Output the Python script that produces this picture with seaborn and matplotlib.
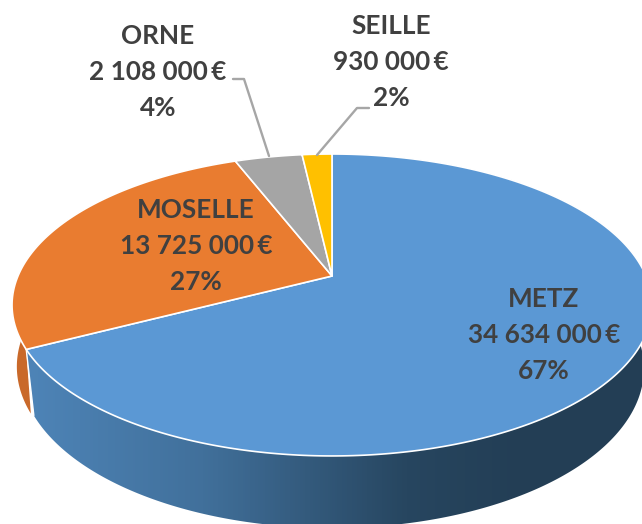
import numpy as np
import matplotlib
matplotlib.use("Agg")
import matplotlib.pyplot as plt
from matplotlib.colors import LinearSegmentedColormap
from matplotlib.patches import Polygon
import seaborn as sns

names = ["METZ", "MOSELLE", "ORNE", "SEILLE"]
values = [34634000, 13725000, 2108000, 930000]
percents = [67, 27, 4, 2]
colors = ["#5B98D4", "#E97C30", "#A5A5A5", "#FFC000"]

sns.set_theme(style="white")
plt.rcParams["font.family"] = ["Lato", "DejaVu Sans"]

fig, ax = plt.subplots(figsize=(6.42, 5.24), dpi=100)
fig.subplots_adjust(0, 0, 1, 1)
ax.set_xlim(0, 642)
ax.set_ylim(524, 0)
ax.axis("off")

# perspective projection of a unit disc
X0, Y0, A, B, K = 332, 276, 314, 145.4, 0.192
palette = sns.color_palette(colors)


def top_edge(theta):
    u, v = np.sin(theta), np.cos(theta)
    d = 1 + K * v
    return A * u / d, B * v / d


def rim(theta):
    x, y = top_edge(theta)
    return X0 + x, Y0 - y


def lower_rim(theta, sx=0.975, drop=62):
    x, y = top_edge(theta)
    return X0 + sx * x, Y0 - 1.056 * y + drop


fractions = np.array(values, dtype=float) / np.sum(values)
edges = np.concatenate([[0], np.cumsum(fractions)]) * 2 * np.pi

# orange wall first, the blue wall overlaps its inner end
th = np.linspace(edges[1], edges[2], 200)
xa, ya = rim(th)
xb, yb = lower_rim(th, 0.985, 60)
ax.fill(np.r_[xa, xb[::-1]], np.r_[ya, yb[::-1]], color="#C9692A", lw=0, zorder=0.5)

th = np.linspace(edges[0], edges[1], 400)
xa, ya = rim(th)
xb, yb = lower_rim(th)
blue_side = Polygon(np.r_[np.c_[xa, ya], np.c_[xb, yb][::-1]], closed=True,
                    transform=ax.transData, facecolor="none", edgecolor="none")
ax.add_patch(blue_side)
cmap = LinearSegmentedColormap.from_list(
    "side", [(0, "#4F86BA"), (0.30, "#41709B"), (0.62, "#274660"),
             (0.80, "#233E55"), (1, "#233E55")])
img = ax.imshow(np.linspace(0, 1, 640)[None, :], extent=(10, 650, 524, 0),
                aspect="auto", cmap=cmap, zorder=1)
img.set_clip_path(blue_side)
ax.set_xlim(0, 642)
ax.set_ylim(524, 0)

# wall separator at the blue/orange edge
xa, ya = rim(edges[1])
xb, yb = lower_rim(edges[1])
ax.plot([xa, xb], [ya, yb], color="white", lw=1.0, zorder=2)

# top faces
for i, col in enumerate(palette):
    th = np.linspace(edges[i], edges[i + 1], 300)
    x, y = rim(th)
    ax.fill(np.r_[X0, x], np.r_[Y0, y], facecolor=col, edgecolor="white",
            lw=1.2, joinstyle="round", zorder=3)

# labels
label_pos = [(544, 335), (196, 246), (158, 72), (391, 62)]
for name, val, pct, (lx, ly) in zip(names, values, percents, label_pos):
    txt = f"{name}\n{val:,}".replace(",", " ") + "\u2009€" + f"\n{pct}%"
    ax.text(lx, ly, txt, ha="center", va="center", ma="center", fontsize=18.8,
            fontweight="bold", color="#404040", linespacing=1.58, zorder=5)

# leader lines
ax.plot([233, 244, 269], [79, 79, 156], color="#A6A6A6", lw=1.7, zorder=4)
ax.plot([369, 357, 317], [108, 108, 155], color="#A6A6A6", lw=1.7, zorder=4)

fig.savefig("out.png", dpi=100, facecolor="white")
